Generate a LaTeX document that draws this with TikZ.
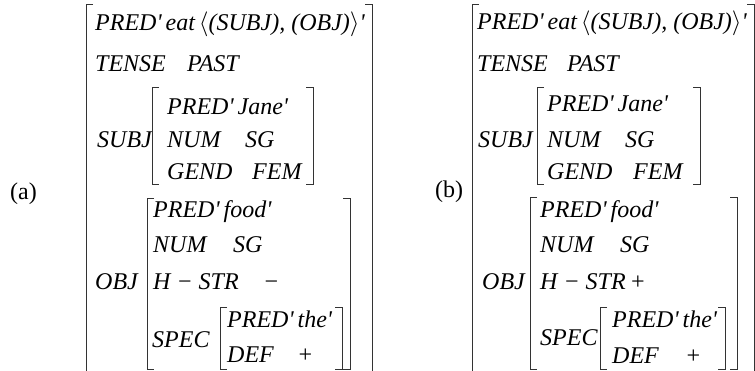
\documentclass[tikz,border=0pt]{standalone}
\usepackage{amsmath}
\usepackage{fontspec}
\setmainfont{Liberation Serif}
\usetikzlibrary{calc}
\newcommand{\q}{\textquotesingle}
% left and right bracket of one matrix: x1, top, x2, bottom
\newcommand{\avmbrack}[4]{%
	\draw[brk] (#1+7,#2) -- (#1,#2) -- (#1,#4) -- (#1+7,#4);
	\draw[brk] (#3-7,#2) -- (#3,#2) -- (#3,#4) -- (#3-7,#4);}
\tikzset{
	avm/.style={anchor=base west,inner sep=0pt,font=\itshape\fontsize{24}{24}\selectfont},
	lbl/.style={anchor=base west,inner sep=0pt,font=\fontsize{24}{24}\selectfont},
	brk/.style={draw=black!80,line width=1pt}
}

\begin{document}
\begin{tikzpicture}[x=1pt,y=-1pt]
\useasboundingbox (0,0) rectangle (755,371);
\clip (0,0) rectangle (755,371);

% (a)
\node[lbl] (la) at (10,200) {(a)};
\node[avm] (a-pred) at (95,31) {PRED\q\,eat\,$\langle$(SUBJ), (OBJ)$\rangle$\q};
\node[avm] (a-tense) at (95,72) {TENSE};
\node[avm] (a-past) at (187,72) {PAST};
\node[avm] (a-subj) at (97,148) {SUBJ};
\node[avm] (a-s1) at (167,115) {PRED\q\,Jane\q};
\node[avm] (a-s2) at (167,148) {NUM};
\node[avm] (a-sg) at (245,148) {SG};
\node[avm] (a-s3) at (167,180) {GEND};
\node[avm] (a-fem) at (252,180) {FEM};
\node[avm] (a-obj) at (95,290) {OBJ};
\node[avm] (a-o1) at (153,218) {PRED\q\,food\q};
\node[avm] (a-o2) at (153,253) {NUM};
\node[avm] (a-osg) at (233,253) {SG};
\node[avm] (a-o3) at (153,290) {H − STR};
\node[avm] (a-hstr) at (263,290) {−};
\node[avm] (a-spec) at (152,347) {SPEC};
\node[avm] (a-p1) at (227,327) {PRED\q\,the\q};
\node[avm] (a-p2) at (227,362) {DEF};
\node[avm] (a-def) at (297,362) {+};

\avmbrack{86}{5}{372}{390}
\avmbrack{152}{88}{313}{185}
\avmbrack{147}{199}{350}{369}
\avmbrack{220}{308}{342}{369}

% (b)
\node[lbl] (lb) at (435,198) {(b)};
\node[avm] (b-pred) at (477,30) {PRED\q\,eat\,$\langle$(SUBJ), (OBJ)$\rangle$\q};
\node[avm] (b-tense) at (477,72) {TENSE};
\node[avm] (b-past) at (567,72) {PAST};
\node[avm] (b-subj) at (478,148) {SUBJ};
\node[avm] (b-s1) at (547,112) {PRED\q\,Jane\q};
\node[avm] (b-s2) at (547,148) {NUM};
\node[avm] (b-sg) at (625,148) {SG};
\node[avm] (b-s3) at (547,180) {GEND};
\node[avm] (b-fem) at (633,180) {FEM};
\node[avm] (b-obj) at (482,290) {OBJ};
\node[avm] (b-o1) at (540,218) {PRED\q\,food\q};
\node[avm] (b-o2) at (540,253) {NUM};
\node[avm] (b-osg) at (620,253) {SG};
\node[avm] (b-o3) at (540,290) {H − STR\,+};
\node[avm] (b-spec) at (540,345) {SPEC};
\node[avm] (b-p1) at (612,327) {PRED\q\,the\q};
\node[avm] (b-p2) at (612,363) {DEF};
\node[avm] (b-def) at (685,363) {+};

\avmbrack{472}{5}{754}{390}
\avmbrack{537}{88}{700}{185}
\avmbrack{530}{198}{737}{369}
\avmbrack{600}{308}{725}{369}

\end{tikzpicture}
\end{document}
